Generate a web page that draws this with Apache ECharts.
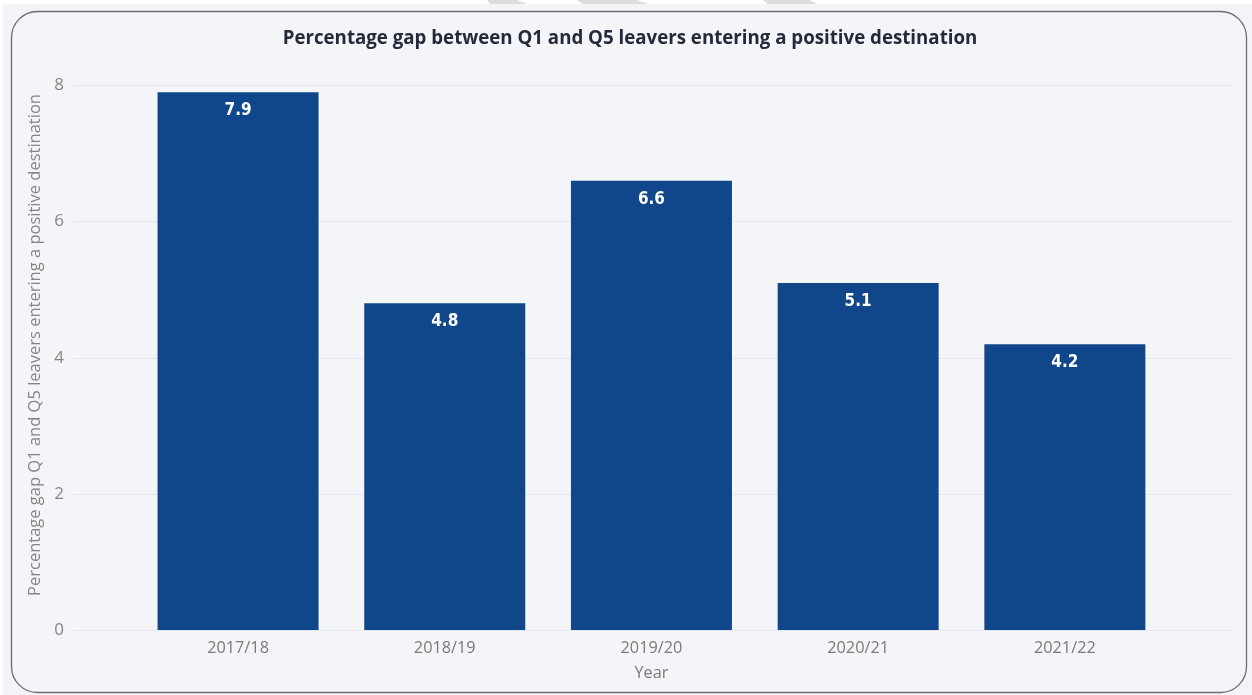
<!DOCTYPE html>
<html>
<head>
<meta charset="utf-8">
<script src="https://cdn.jsdelivr.net/npm/echarts@6/dist/echarts.min.js"></script>
<style>
  html, body { margin: 0; padding: 0; background: #f3f4f8; }
  #chart { width: 1252px; height: 695px; }
</style>
</head>
<body>
<div id="chart"></div>
<script>
// Gap (percentage points) between Q1 and Q5 leavers entering a positive destination
const years = ['2017/18', '2018/19', '2019/20', '2020/21', '2021/22'];
const gapValues = [7.9, 4.8, 6.6, 5.1, 4.2];
const yTicks = [0, 2, 4, 6, 8];

const titleText = 'Percentage gap between Q1 and Q5 leavers entering a positive destination';
const yTitle = 'Percentage gap Q1 and Q5 leavers entering a positive destination';
const xTitle = 'Year';

const chart = echarts.init(document.getElementById('chart'), null, { renderer: 'canvas' });

const labelColor = '#7a7a7a';
const uiFont = '"Open Sans", "Noto Sans", sans-serif';

chart.setOption({
  backgroundColor: '#f3f4f8',
  animation: false,
  title: {
    text: titleText,
    left: 625,
    top: 24,
    textAlign: 'center',
    textStyle: { fontFamily: uiFont, fontSize: 18.7, fontWeight: 'bold', color: '#252a3a' }
  },
  graphic: [
    // white strip along the top and left edges
    { type: 'rect', z: -10, silent: true, shape: { x: 0, y: 0, width: 1252, height: 4 }, style: { fill: '#ffffff' } },
    { type: 'rect', z: -10, silent: true, shape: { x: 0, y: 0, width: 3, height: 695 }, style: { fill: '#ffffff' } },
    // faint stripes in the top strip
    { type: 'polygon', z: -9, silent: true, shape: { points: [[487, 0], [517, 0], [527, 4], [490, 4]] }, style: { fill: '#dcdcdc' } },
    { type: 'polygon', z: -9, silent: true, shape: { points: [[577, 0], [637, 0], [648, 4], [583, 4]] }, style: { fill: '#dcdcdc' } },
    { type: 'polygon', z: -9, silent: true, shape: { points: [[763, 0], [810, 0], [817, 4], [768, 4]] }, style: { fill: '#dcdcdc' } },
    // card panel
    {
      type: 'rect', z: -5, silent: true,
      shape: { x: 11.5, y: 11.5, width: 1235, height: 681, r: 26 },
      style: { fill: '#f4f5f9', stroke: '#6b6c78', lineWidth: 1.3 }
    },
    // vertical axis title
    {
      type: 'text', z: 5, silent: true,
      x: 35, y: 345, rotation: Math.PI / 2,
      style: {
        text: yTitle, fill: '#858585', font: '16.5px ' + uiFont,
        align: 'center', verticalAlign: 'middle'
      }
    }
  ],
  grid: [
    // background grid carrying the value scale and gridlines
    { left: 73, right: 18, top: 85.5, bottom: 65, containLabel: false },
    // grid holding the bars
    { left: 134.7, right: 83.8, top: 85.5, bottom: 65, containLabel: false }
  ],
  xAxis: [
    { gridIndex: 0, type: 'value', show: false, min: 0, max: 1 },
    {
      gridIndex: 1, type: 'category', data: years,
      axisLine: { show: false }, axisTick: { show: false },
      axisLabel: { color: labelColor, fontFamily: uiFont, fontSize: 16.3, margin: 10 },
      name: xTitle, nameLocation: 'middle', nameGap: 35,
      nameTextStyle: { color: labelColor, fontFamily: uiFont, fontSize: 16.3 }
    }
  ],
  yAxis: [
    {
      gridIndex: 0, type: 'value', min: yTicks[0], max: yTicks[yTicks.length - 1], interval: 2,
      axisLine: { show: false }, axisTick: { show: false },
      axisLabel: { color: '#858585', fontFamily: uiFont, fontSize: 17, margin: 9 },
      splitLine: { lineStyle: { color: '#e6e7ec', width: 1 } }
    },
    {
      gridIndex: 1, type: 'value', min: yTicks[0], max: yTicks[yTicks.length - 1], interval: 2,
      show: false, splitLine: { show: false }
    }
  ],
  series: [
    {
      type: 'bar',
      xAxisIndex: 1, yAxisIndex: 1,
      data: gapValues,
      barWidth: 161,
      itemStyle: { color: '#10478a' },
      label: {
        show: true, position: 'insideTop', distance: 10,
        color: '#ffffff', fontFamily: '"DejaVu Sans Condensed", "Noto Sans", sans-serif',
        fontWeight: 'bold', fontSize: 17,
        formatter: p => p.value.toFixed(1)
      }
    }
  ]
});
</script>
</body>
</html>
